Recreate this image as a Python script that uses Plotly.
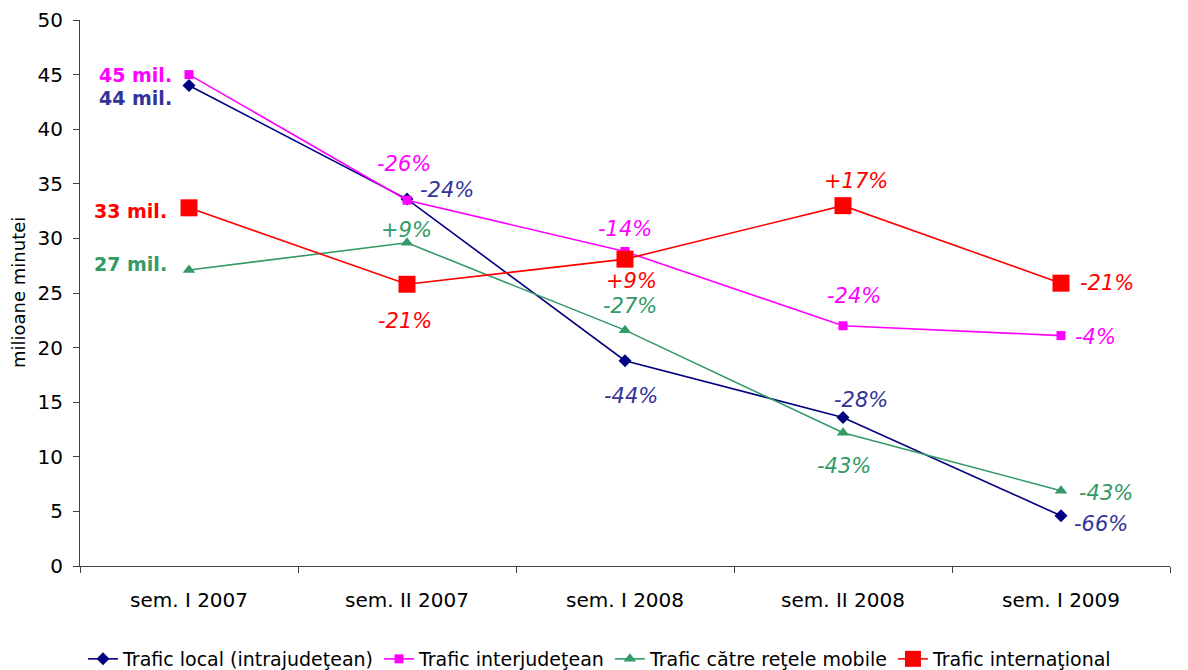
import plotly.graph_objects as go

categories = ["sem. I 2007", "sem. II 2007", "sem. I 2008", "sem. II 2008", "sem. I 2009"]

local_vals = [44.0, 33.6, 18.8, 13.6, 4.6]
inter_vals = [45.0, 33.5, 28.8, 22.0, 21.1]
mobile_vals = [27.1, 29.6, 21.6, 12.2, 6.9]
intl_vals = [32.8, 25.8, 28.1, 33.0, 25.9]

local_pct = ["", "-24%", "-44%", "-28%", "-66%"]
inter_pct = ["", "-26%", "-14%", "-24%", "-4%"]
mobile_pct = ["", "+9%", "-27%", "-43%", "-43%"]
intl_pct = ["", "-21%", "+9%", "+17%", "-21%"]

start_labels = ["44 mil.", "45 mil.", "27 mil.", "33 mil."]

names = ["Trafic local (intrajudeţean)", "Trafic interjudeţean",
         "Trafic către reţele mobile", "Trafic internaţional"]

FONT = "DejaVu Sans"

series = [
    dict(name=names[0], y=local_vals, color="#000080", lab="#333399",
         symbol="diamond", size=10, pct=local_pct,
         offs=[(-54, -12), (40, 9), (6, -35), (18, 17), (40, -8)]),
    dict(name=names[1], y=inter_vals, color="#FF00FF", lab="#FF00FF",
         symbol="square", size=9, pct=inter_pct,
         offs=[(-54, 0), (-3, 36), (0, 23), (11, 30), (34, -1)]),
    dict(name=names[2], y=mobile_vals, color="#339966", lab="#339966",
         symbol="triangle-up", size=11, pct=mobile_pct,
         offs=[(-59, 6), (-1, 13), (5, 24), (1, -33), (45, -2)]),
    dict(name=names[3], y=intl_vals, color="#FF0000", lab="#FF0000",
         symbol="square", size=17, pct=intl_pct,
         offs=[(-59, -3), (-2, -37), (6, -22), (13, 25), (46, 0)]),
]

fig = go.Figure()
annotations = []
for i, s in enumerate(series):
    fig.add_trace(go.Scatter(
        x=categories, y=s["y"], name=s["name"], mode="lines+markers",
        line=dict(color=s["color"], width=1.6),
        marker=dict(symbol=s["symbol"], size=s["size"], color=s["color"]),
    ))
    for j, (cat, v) in enumerate(zip(categories, s["y"])):
        dx, dy = s["offs"][j]
        if j == 0:
            txt = "<b>" + start_labels[i] + "</b>"
            fsize = 19
            fstyle = "normal"
        else:
            txt = s["pct"][j]
            fsize = 21
            fstyle = "italic"
        annotations.append(dict(
            x=cat, y=v, xref="x", yref="y", text=txt, showarrow=False,
            xshift=dx, yshift=dy,
            font=dict(family=FONT, size=fsize, color=s["lab"], style=fstyle),
        ))

# page has an 8px body margin; the figure is sized/placed to compensate
W, H = 1180, 662
ML, MR, MT, MB = 72, 18, 12, 104
PW = W - ML - MR
PH = H - MT - MB

annotations.append(dict(
    x=-62 / PW, y=0.5, xref="paper", yref="paper", text="milioane minutei",
    showarrow=False, textangle=-90, xanchor="center", yanchor="middle",
    font=dict(family=FONT, size=18, color="black"),
))

fig.update_layout(
    width=W, height=H,
    margin=dict(l=ML, r=MR, t=MT, b=MB, autoexpand=False),
    paper_bgcolor="white", plot_bgcolor="white",
    font=dict(family=FONT, color="black"),
    showlegend=True,
    legend=dict(orientation="h", xref="container", yref="container",
                x=592 / W, xanchor="center",
                y=(H - 651) / H, yanchor="middle",
                font=dict(family=FONT, size=19, color="black"),
                itemwidth=30, tracegroupgap=0),
    annotations=annotations,
)
fig.update_xaxes(
    type="category", range=[-0.5, 4.5], tickson="boundaries",
    ticks="outside", ticklen=6, tickcolor="#404040", automargin=False,
    showline=True, linecolor="#404040", linewidth=1, showgrid=False,
    ticklabelstandoff=16,
    tickfont=dict(family=FONT, size=20, color="black"),
)
fig.update_yaxes(
    range=[0, 50], dtick=5, ticks="outside", ticklen=6, tickcolor="#404040",
    automargin=False, ticklabelstandoff=6,
    showline=True, linecolor="#404040", linewidth=1, showgrid=False, zeroline=False,
    tickfont=dict(family=FONT, size=20, color="black"),
)

fig.write_html("out.html")
